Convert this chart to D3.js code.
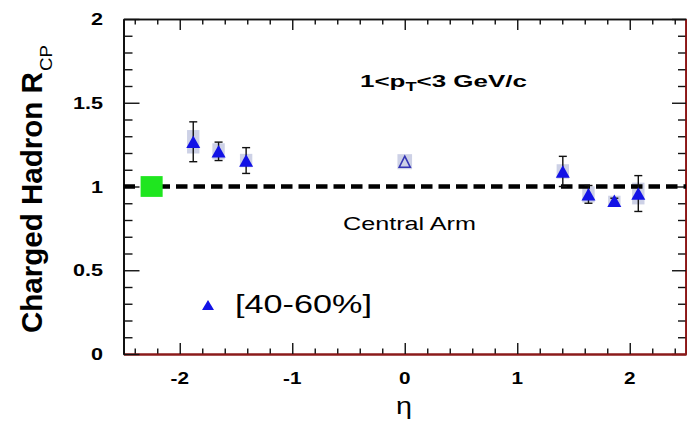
<!DOCTYPE html>
<html>
<head>
<meta charset="utf-8">
<script src="https://cdn.jsdelivr.net/npm/d3@7"></script>
<style>
  body { margin: 0; background: #fff; }
  svg { display: block; }
  text { font-family: "Liberation Sans", Arial, sans-serif; fill: #000; }
</style>
</head>
<body>
<svg width="687" height="425"></svg>
<script>
'use strict';

// charged hadron R_CP vs eta, [40-60%], forward/backward arms
var eta = [-1.88, -1.655, -1.41, 1.405, 1.633, 1.863, 2.076];
var rcp = [1.267, 1.21, 1.155, 1.09, 0.953, 0.915, 0.958];
var statErr = [0.119, 0.055, 0.077, 0.09, 0.053, 0.015, 0.107];
var sysErr = [0.07, 0.048, 0.04, 0.043, 0.048, 0.03, 0.065];

// central arm point
var centralEta = [0];
var centralRcp = [1.148];
var centralSys = [0.045];

// normalisation uncertainty box
var normEta = [-2.25];
var normErr = [0.062];

var xTicks = [-2, -1, 0, 1, 2];
var yTicks = [0, 0.5, 1, 1.5, 2];
var yTickLabels = ["0", "0.5", "1", "1.5", "2"];

var svg = d3.select("svg");

var x = d3.scaleLinear().domain([-2.5, 2.5]).range([123.5, 686]),
  y = d3.scaleLinear().domain([0, 2]).range([354, 19]);

var xMinor = d3.range(-12, 13).map(function (i) { return i / 5; })
  .filter(function (v) { return Math.abs(v - Math.round(v)) > 0.01; });
var yMinor = d3.range(0, 21).map(function (i) { return i / 10; })
  .filter(function (v) { return Math.abs(v * 2 - Math.round(v * 2)) > 0.01; });

// frame: axes on all four sides, ticks pointing in
function side(axisFn, pos, transform, minorLen, majorLen, majors, minors, colour, width) {
  [[minors, minorLen], [majors, majorLen]].forEach(function (p) {
    var g = svg.append("g")
      .attr("class", "frame")
      .attr("transform", transform)
      .call(axisFn(pos).tickValues(p[0]).tickSize(-p[1]).tickSizeOuter(0).tickFormat(""));
    g.selectAll(".tick line").attr("stroke", "#111").attr("stroke-width", 1.4);
    g.select(".domain").attr("stroke", colour).attr("stroke-width", width);
  });
}
side(d3.axisTop, x, "translate(0," + y(2) + ")", 5.5, 11, xTicks, xMinor, "#111", 1.6);
side(d3.axisRight, y, "translate(" + x(2.5) + ",0)", 8, 14, yTicks, yMinor, "#8b1515", 2.5);
side(d3.axisBottom, x, "translate(0," + y(0) + ")", 5.5, 11, xTicks, xMinor, "#8b1a1a", 2);
side(d3.axisLeft, y, "translate(" + x(-2.5) + ",0)", 9, 16, yTicks, yMinor, "#111", 2);

function tri(w, h) {
  return "M0," + (-h / 2) + "L" + (w / 2) + "," + (h / 2) + "L" + (-w / 2) + "," + (h / 2) + "Z";
}

// systematic boxes
var boxFill = "#cdd1e6";
svg.selectAll(".sys")
  .data(eta)
  .enter().append("rect")
  .attr("class", "sys")
  .attr("x", function (d) { return x(d - 0.055); })
  .attr("width", x(0.055) - x(-0.055))
  .attr("y", function (d, i) { return y(rcp[i] + sysErr[i]); })
  .attr("height", function (d, i) { return y(rcp[i] - sysErr[i]) - y(rcp[i] + sysErr[i]); })
  .attr("fill", boxFill);

svg.selectAll(".csys")
  .data(centralEta)
  .enter().append("rect")
  .attr("class", "csys")
  .attr("x", function (d) { return x(d - 0.065); })
  .attr("width", x(0.065) - x(-0.065))
  .attr("y", function (d, i) { return y(centralRcp[i] + centralSys[i]); })
  .attr("height", function (d, i) { return y(centralRcp[i] - centralSys[i]) - y(centralRcp[i] + centralSys[i]); })
  .attr("fill", boxFill);

// unity line
svg.append("line")
  .attr("x1", x(-2.5)).attr("x2", x(2.5))
  .attr("y1", y(1)).attr("y2", y(1))
  .attr("stroke", "#000")
  .attr("stroke-width", 4.5)
  .attr("stroke-dasharray", "11.5,6");

// normalisation box
svg.selectAll(".norm")
  .data(normEta)
  .enter().append("rect")
  .attr("class", "norm")
  .attr("x", function (d) { return x(d - 0.098); })
  .attr("width", x(0.098) - x(-0.098))
  .attr("y", function (d, i) { return y(1 + normErr[i]); })
  .attr("height", function (d, i) { return y(1 - normErr[i]) - y(1 + normErr[i]); })
  .attr("fill", "#1fe61f");

// stat error bars
var eb = svg.selectAll(".err")
  .data(eta)
  .enter().append("g")
  .attr("class", "err")
  .attr("stroke", "#111")
  .attr("stroke-width", 1.4);
eb.append("line")
  .attr("x1", function (d) { return x(d); })
  .attr("x2", function (d) { return x(d); })
  .attr("y1", function (d, i) { return y(rcp[i] + statErr[i]); })
  .attr("y2", function (d, i) { return y(rcp[i] - statErr[i]); });
[1, -1].forEach(function (s) {
  eb.append("line")
    .attr("x1", function (d) { return x(d) - 4; })
    .attr("x2", function (d) { return x(d) + 4; })
    .attr("y1", function (d, i) { return y(rcp[i] + s * statErr[i]); })
    .attr("y2", function (d, i) { return y(rcp[i] + s * statErr[i]); });
});

// markers
svg.selectAll(".pt")
  .data(eta)
  .enter().append("path")
  .attr("class", "pt")
  .attr("d", tri(14, 12.5))
  .attr("transform", function (d, i) { return "translate(" + x(d) + "," + y(rcp[i]) + ")"; })
  .attr("fill", "#1212e6");

svg.selectAll(".cpt")
  .data(centralEta)
  .enter().append("path")
  .attr("class", "cpt")
  .attr("d", tri(11, 11))
  .attr("transform", function (d, i) { return "translate(" + x(d) + "," + y(centralRcp[i]) + ")"; })
  .attr("fill", "none")
  .attr("stroke", "#3434b4")
  .attr("stroke-width", 1.6);

// text helper: stretch horizontally to match the picture
function label(px, py, str, size, weight, anchor, width) {
  var t = svg.append("text")
    .attr("font-size", size)
    .attr("font-weight", weight)
    .attr("text-anchor", anchor)
    .text(str);
  var k = width ? width / t.node().getComputedTextLength() : 1.22;
  t.attr("transform", "translate(" + px + "," + py + ") scale(" + k + ",1)");
  return t;
}

xTicks.forEach(function (v) {
  label(x(v), y(0) + 30, String(v), 17, "bold", "middle");
});
yTicks.forEach(function (v, i) {
  label(103, y(v) + 6, yTickLabels[i], 17, "bold", "end").attr("transform",
    "translate(103," + (y(v) + 6) + ") scale(1.27,1)");
});

label(404, 414, "\u03b7", 24, "normal", "middle", 16);

// y axis title
var yt = svg.append("g").attr("transform", "translate(42,333) rotate(-90)");
var yMain = yt.append("text")
  .attr("font-size", 29).attr("font-weight", "bold")
  .text("Charged Hadron R");
yMain.attr("transform", "scale(" + 261 / yMain.node().getComputedTextLength() + ",1)");
var ySub = yt.append("text")
  .attr("font-size", 17)
  .text("CP");
ySub.attr("transform", "translate(262,10) scale(" + 26 / ySub.node().getComputedTextLength() + ",1)");

// pT range annotation
var ptText = svg.append("text")
  .attr("font-size", 17).attr("font-weight", "bold");
ptText.append("tspan").text("1<p");
ptText.append("tspan").attr("font-size", 12).attr("dy", 4).text("T");
ptText.append("tspan").attr("dy", -4).text("<3 GeV/c");
ptText.attr("transform", "translate(360,87) scale(" + 167 / ptText.node().getBBox().width + ",1)");

label(343, 230, "Central Arm", 19, "normal", "start", 133).attr("fill", "#222");
label(235, 313, "[40-60%]", 26, "normal", "start", 137);

// legend marker
svg.append("path")
  .attr("d", tri(12, 10))
  .attr("transform", "translate(208,305)")
  .attr("fill", "#1212e6");
</script>
</body>
</html>
